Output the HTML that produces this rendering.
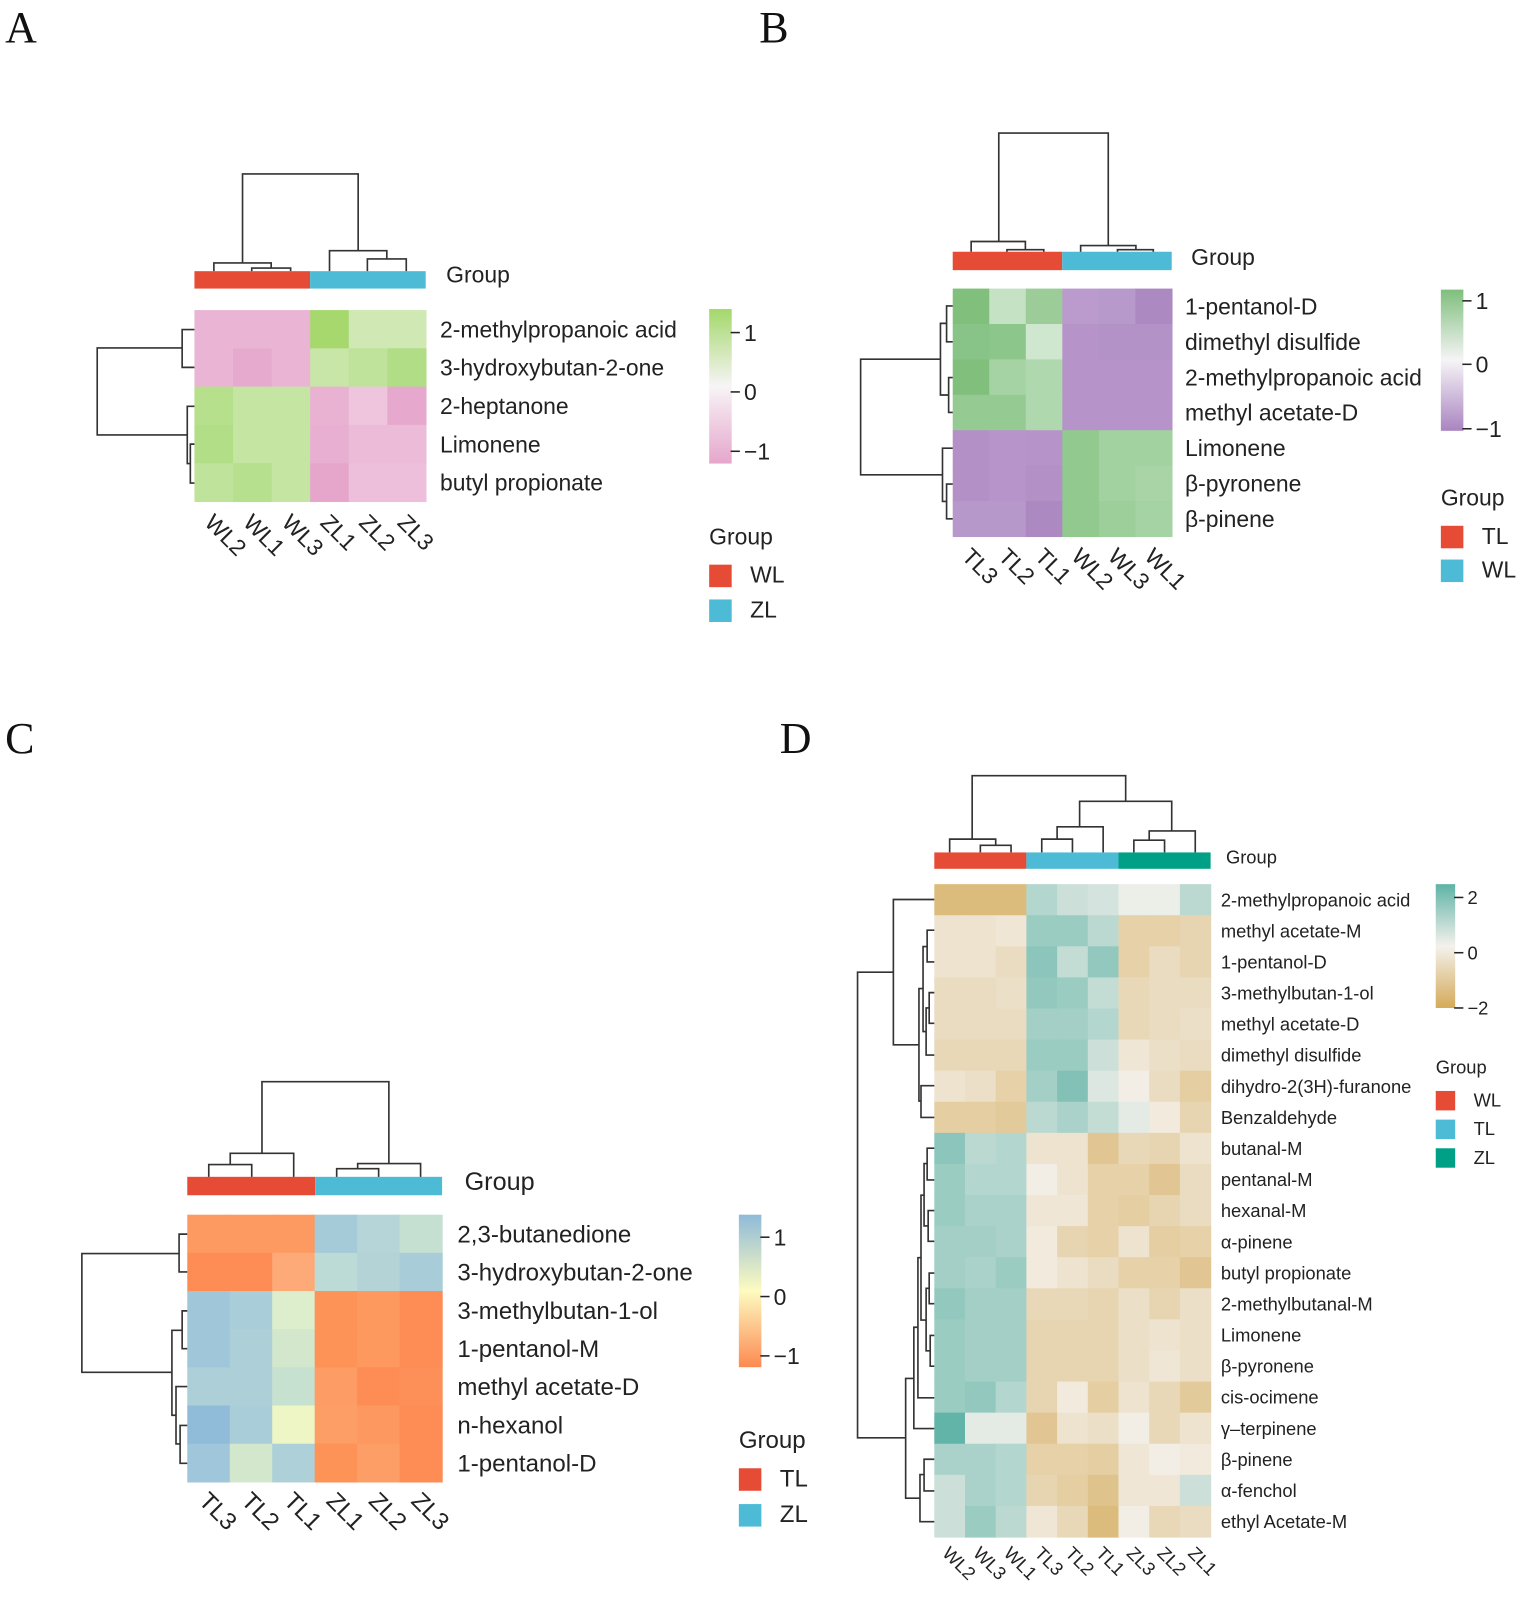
<!DOCTYPE html>
<html><head><meta charset="utf-8">
<style>
html,body{margin:0;padding:0;background:#fff;}
svg{display:block;}
text{font-family:"Liberation Sans",Arial,sans-serif;fill:#222;}
.L{font-family:"Liberation Serif",serif;font-size:43px;fill:#111;}
</style></head>
<body>
<svg id="s" xmlns="http://www.w3.org/2000/svg" width="1535" height="1606" viewBox="0 0 1500 1569.4" preserveAspectRatio="none">
<defs>
<linearGradient id="gA" x1="0" y1="0" x2="0" y2="1"><stop offset="0" stop-color="#a3d86a"/><stop offset="0.5" stop-color="#f7f4f6"/><stop offset="1" stop-color="#e6a6cc"/></linearGradient>
<linearGradient id="gB" x1="0" y1="0" x2="0" y2="1"><stop offset="0" stop-color="#7ebf7c"/><stop offset="0.5" stop-color="#f6f4f6"/><stop offset="1" stop-color="#a984c0"/></linearGradient>
<linearGradient id="gC" x1="0" y1="0" x2="0" y2="1"><stop offset="0" stop-color="#8fbad8"/><stop offset="0.5" stop-color="#fdfbc0"/><stop offset="1" stop-color="#fc8a52"/></linearGradient>
<linearGradient id="gD" x1="0" y1="0" x2="0" y2="1"><stop offset="0" stop-color="#5fb3a6"/><stop offset="0.5" stop-color="#f4f1ec"/><stop offset="1" stop-color="#d4aa58"/></linearGradient>
</defs>
<text class="L" x="5" y="41">A</text>
<text class="L" x="742" y="41">B</text>
<text class="L" x="5" y="736">C</text>
<text class="L" x="762" y="736">D</text>
<g id="g"></g>
</svg>
<script>
var g=document.getElementById('g'),NS='http://www.w3.org/2000/svg',K=1.12;
function el(t,a,txt){var e=document.createElementNS(NS,t);for(var k in a)e.setAttribute(k,a[k]);if(txt!=null)e.textContent=txt;g.appendChild(e);return e;}
function U(xl,xr,yt,yl,yr){el('path',{d:'M'+xl+' '+yl+'V'+yt+'H'+xr+'V'+yr,fill:'none',stroke:'#333','stroke-width':1.6});}
function R(yt,yb,x,xt,xb){el('path',{d:'M'+xt+' '+yt+'H'+x+'V'+yb+'H'+xb,fill:'none',stroke:'#333','stroke-width':1.6});}
function hm(x0,y0,cw,rh,cols){for(var i=0;i<cols.length;i++)for(var j=0;j<cols[i].length;j++)el('rect',{x:x0+j*cw,y:y0+i*rh,width:cw+0.6,height:rh+0.6,fill:cols[i][j]});}
function labels(x,y0,rh,arr,fs){fs*=K;arr.forEach(function(t,i){el('text',{x:x,y:y0+rh*(i+0.5)+fs*0.36,'font-size':fs},t);});}
function xlab(x0,cw,y,arr,fs){fs*=K;arr.forEach(function(t,i){var cx=x0+cw*(i+0.5)-fs*0.45;el('text',{x:cx,y:y,'font-size':fs,transform:'rotate(45 '+cx+' '+y+')'},t);});}
function cbar(x,y,w,h,grad,ticks,fs){fs*=K;el('rect',{x:x,y:y,width:w,height:h,fill:'url(#'+grad+')'});ticks.forEach(function(t){el('line',{x1:x+w-1,x2:x+w+8,y1:t[0],y2:t[0],stroke:'#222','stroke-width':1.5});el('text',{x:x+w+12,y:t[0]+fs*0.36,'font-size':fs},t[1]);});}
function glegend(x,y,fs,bs,gap,items){fs*=K;el('text',{x:x,y:y,'font-size':fs},'Group');items.forEach(function(it,i){var by=y+bs*0.9+i*gap;el('rect',{x:x,y:by,width:bs,height:bs,fill:it[1]});el('text',{x:x+bs+18,y:by+bs*0.8,'font-size':fs},it[0]);});}
var RED='#e64b35',BLU='#4dbbd5',TEAL='#00a087';
// ---------- A ----------
var P='#eab5d5',P2='#e7aacf';
hm(190,303,37.7,37.4,[
[P,P,P,'#a6d86e','#cfe8b4','#cfe8b4'],
[P,P2,P,'#c8e6a8','#bfe39a','#b0dd85'],
['#b6e08c','#c5e5a3','#c5e5a3','#e9b2d3','#efc5de','#e6a9cd'],
['#b3de88','#c5e5a3','#c5e5a3','#e8afd2','#ebbbd8','#ebbbd8'],
['#bfe39a','#b6df8e','#c5e5a3','#e6a6cc','#edbfda','#edbfda']]);
el('rect',{x:190,y:265,width:113,height:17,fill:RED});el('rect',{x:303,y:265,width:113,height:17,fill:BLU});
el('text',{x:436,y:276,'font-size':20*K},'Group');
U(246,284,262,265,265);U(209,265,257,265,262);U(359,397,253,265,265);U(322,378,245,265,253);U(237,350,170,257,245);
R(322,359,178,190,190);R(434,472,186,190,190);R(397,453,183,190,186);R(340,425,95,178,183);
labels(430,303,37.4,['2-methylpropanoic acid','3-hydroxybutan-2-one','2-heptanone','Limonene','butyl propionate'],20);
xlab(190,37.7,512,['WL2','WL1','WL3','ZL1','ZL2','ZL3'],20);
cbar(693,302,22,151,'gA',[[325,'1'],[383,'0'],[441,'\u22121']],20);
glegend(693,532,20,22,34,[['WL',RED],['ZL',BLU]]);
// ---------- B ----------
var G1='#82c17e',GL='#c5e2c4',GM='#9ccd98',PU='#b694c9',PD='#ad89c1';
hm(931,282,35.7,34.6,[
['#80c07c',GL,GM,'#bb9bcd','#b79acb',PD],
['#88c488','#8cc68a','#cfe6cf',PU,'#b392c8','#b392c8'],
['#80c07c','#a6d3a4','#b0d8ae',PU,PU,PU],
['#95cb93','#95cb93','#b0d8ae',PU,PU,PU],
['#b391c7','#b795ca',PU,'#91c98f','#a2d2a0','#a2d2a0'],
['#b391c7','#b795ca','#b391c7','#91c98f','#a2d2a0','#a8d4a6'],
['#b798cb','#b798cb',PD,'#91c98f','#9ccf9a','#a5d3a3']]);
el('rect',{x:931,y:246,width:107,height:18,fill:RED});el('rect',{x:1038,y:246,width:107,height:18,fill:BLU});
el('text',{x:1164,y:259,'font-size':20*K},'Group');
U(984,1020,244,246,246);U(949,1002,236,246,244);U(1092,1127,244,246,246);U(1056,1110,240,246,244);U(976,1083,130,236,240);
R(299,334,925,931,931);R(369,403,927,931,931);R(316,386,919,925,927);R(473,507,925,931,931);R(438,490,921,931,925);R(351,464,841,919,921);
labels(1158,282,34.6,['1-pentanol-D','dimethyl disulfide','2-methylpropanoic acid','methyl acetate-D','Limonene','\u03b2-pyronene','\u03b2-pinene'],20);
xlab(931,35.7,545,['TL3','TL2','TL1','WL2','WL3','WL1'],20);
cbar(1408,283,22,138,'gB',[[294,'1'],[356,'0'],[419,'\u22121']],20);
glegend(1408,494,20,22,33,[['TL',RED],['WL',BLU]]);
// ---------- C ----------
var O='#fd9a62',OD='#fd8c55';
hm(183,1187,41.5,37.3,[
[O,O,O,'#a5cad8','#b5d5d8','#c5e0d1'],
[OD,OD,'#fdaa78','#bcdad6','#b3d3d7','#a8ccd8'],
['#a0c6da','#a9cdd9','#dceecb','#fd9357','#fd995f','#fd8c55'],
['#a0c6da','#add0d8','#d2e7cc','#fd9357','#fd995f','#fd8c55'],
['#add0d8','#add0d8','#c7e1d0','#fd9c64','#fd8c55','#fd9058'],
['#90bbd9','#a9cdd9','#eef6c6','#fd9e66','#fd9860','#fd8c55'],
['#9fc6da','#d2e7cc','#aed0d8','#fd9357','#fd9e66','#fd8c55']]);
el('rect',{x:183,y:1150,width:125,height:18,fill:RED});el('rect',{x:308,y:1150,width:124,height:18,fill:BLU});
el('text',{x:454,y:1163,'font-size':22*K},'Group');
U(204,246,1138,1150,1150);U(225,287,1127,1138,1150);U(329,370,1142,1150,1150);U(349.5,411,1137,1142,1150);U(256,380,1057,1127,1137);
R(1206,1243,175,183,183);R(1281,1318,178,183,183);R(1393,1430,176,183,183);R(1355,1411,172,183,176);R(1300,1383,168,178,172);R(1225,1341,80,175,168);
labels(447,1187,37.3,['2,3-butanedione','3-hydroxybutan-2-one','3-methylbutan-1-ol','1-pentanol-M','methyl acetate-D','n-hexanol','1-pentanol-D'],21);
xlab(183,41.5,1468,['TL3','TL2','TL1','ZL1','ZL2','ZL3'],21);
cbar(722,1187,22,149,'gC',[[1209,'1'],[1267,'0'],[1325,'\u22121']],20);
glegend(722,1415,21,22,35,[['TL',RED],['ZL',BLU]]);
// ---------- D ----------
function lerp(a,b,t){return [0,1,2].map(function(i){return Math.round(a[i]+(b[i]-a[i])*t);});}
var cN=[212,170,88],c0=[244,241,236],cP=[82,173,160];
function dc(v){v=Math.max(-2,Math.min(2,v));var c=v<0?lerp(c0,cN,-v/2):lerp(c0,cP,v/2);return 'rgb('+c.join(',')+')';}
var DV=[
[-1.5,-1.5,-1.5,0.8,0.5,0.4,0.1,0.1,0.7],
[-0.4,-0.4,-0.3,1.1,1.1,0.7,-0.9,-0.9,-0.8],
[-0.4,-0.4,-0.6,1.3,0.6,1.2,-0.9,-0.6,-0.8],
[-0.6,-0.6,-0.5,1.2,1.1,0.6,-0.7,-0.6,-0.6],
[-0.6,-0.6,-0.6,1.0,1.0,0.8,-0.7,-0.6,-0.5],
[-0.7,-0.7,-0.7,1.1,1.1,0.5,-0.3,-0.5,-0.6],
[-0.4,-0.5,-0.9,1.0,1.4,0.3,-0.1,-0.6,-1.0],
[-1.0,-1.0,-1.1,0.7,0.9,0.6,0.2,-0.2,-0.8],
[1.3,0.7,0.8,-0.4,-0.4,-1.2,-0.7,-0.8,-0.4],
[1.1,0.8,0.8,-0.1,-0.4,-0.9,-0.9,-1.2,-0.6],
[1.1,0.9,0.9,-0.3,-0.3,-0.9,-1.0,-0.8,-0.6],
[1.0,1.0,0.9,-0.2,-0.8,-0.9,-0.4,-1.0,-0.9],
[1.0,0.9,1.1,-0.2,-0.4,-0.6,-0.9,-0.9,-1.2],
[1.2,1.0,1.0,-0.7,-0.7,-0.8,-0.5,-0.8,-0.5],
[1.1,1.0,1.0,-0.8,-0.8,-0.8,-0.5,-0.4,-0.5],
[1.1,1.0,1.0,-0.8,-0.8,-0.8,-0.5,-0.3,-0.5],
[1.1,1.2,0.8,-0.8,-0.2,-1.0,-0.4,-0.7,-1.1],
[1.8,0.2,0.2,-1.2,-0.4,-0.5,-0.1,-0.7,-0.4],
[0.9,0.9,0.8,-0.9,-0.9,-1.0,-0.3,-0.1,-0.2],
[0.5,0.9,0.8,-0.8,-1.0,-1.3,-0.3,-0.3,0.5],
[0.5,1.1,0.7,-0.3,-0.7,-1.5,-0.1,-0.7,-0.6]];
hm(913,864,30,30.38,DV.map(function(r){return r.map(dc);}));
el('rect',{x:913,y:833,width:90,height:16,fill:RED});el('rect',{x:1003,y:833,width:90,height:16,fill:BLU});el('rect',{x:1093,y:833,width:90,height:16,fill:TEAL});
el('text',{x:1198,y:844,'font-size':16*K},'Group');
U(958,988,826,833,833);U(928,973,820,833,826);U(1018,1048,820,833,833);U(1033,1078,808,820,833);U(1108,1138,821,833,833);U(1123,1168,812,821,833);U(1055,1145,783,808,812);U(950,1100,758,820,783);
R(909,940,906,913,913);R(970,1000,908,913,913);R(985,1031,905,908,913);R(925,1008,902,906,905);R(1061,1092,900,913,913);R(966,1076,898,902,900);R(879,1021,873,913,898);
R(1122,1153,906,913,913);R(1183,1213,907,913,913);R(1137,1198,903,906,907);R(1244,1274,908,913,913);R(1305,1335,909,913,913);R(1259,1320,905,908,909);R(1168,1290,900,903,905);R(1229,1366,897,900,913);R(1297,1396,893,897,913);R(1426,1457,903,913,913);R(1441,1487,899,903,913);R(1347,1464,885,893,899);R(950,1405,838,873,885);
labels(1193,864,30.38,['2-methylpropanoic acid','methyl acetate-M','1-pentanol-D','3-methylbutan-1-ol','methyl acetate-D','dimethyl disulfide','dihydro-2(3H)-furanone','Benzaldehyde','butanal-M','pentanal-M','hexanal-M','\u03b1-pinene','butyl propionate','2-methylbutanal-M','Limonene','\u03b2-pyronene','cis-ocimene','\u03b3\u2013terpinene','\u03b2-pinene','\u03b1-fenchol','ethyl Acetate-M'],16);
xlab(913,30,1519,['WL2','WL3','WL1','TL3','TL2','TL1','ZL3','ZL2','ZL1'],16);
cbar(1403,864,19,121,'gD',[[877,'2'],[931,'0'],[985,'\u22122']],16);
glegend(1403,1049,16,19,28,[['WL',RED],['TL',BLU],['ZL',TEAL]]);
</script>
</body></html>
